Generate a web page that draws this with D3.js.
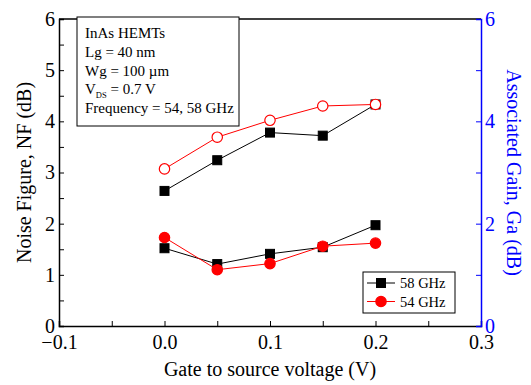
<!DOCTYPE html>
<html>
<head>
<meta charset="utf-8">
<script src="https://cdn.jsdelivr.net/npm/d3@7"></script>
<style>
  body { margin: 0; background: #fff; }
  svg, svg text { font-family: "Liberation Serif", "Times New Roman", serif; }
</style>
</head>
<body>
<svg width="531" height="385"></svg>
<script>
// gate to source voltage (V)
const vgs = [0.0, 0.05, 0.1, 0.15, 0.2];
// noise figure (dB)
const nf58 = [1.52, 1.21, 1.41, 1.54, 1.97];
const nf54 = [1.73, 1.10, 1.22, 1.56, 1.62];
// associated gain (dB)
const ga58 = [2.64, 3.24, 3.78, 3.72, 4.33];
const ga54 = [3.07, 3.69, 4.02, 4.30, 4.33];

const xTicks = [-0.1, 0.0, 0.1, 0.2, 0.3];
const yLeftTicks = [0, 1, 2, 3, 4, 5, 6];
const yRightTicks = [0, 2, 4, 6];
const infoLines = ["InAs HEMTs", "Lg = 40 nm", "Wg = 100 \u00b5m", "VDS", "Frequency = 54, 58 GHz"];

const margin = { left: 59, right: 50, top: 19, bottom: 59 };
const width = 531, height = 385;
const serif = '"Liberation Serif", "Times New Roman", serif';

const svg = d3.select("svg");

const x = d3.scaleLinear().domain([-0.1, 0.3]).range([margin.left, width - margin.right]);
const yL = d3.scaleLinear().domain([0, 6]).range([height - margin.bottom, margin.top]);
const yR = d3.scaleLinear().domain([0, 6]).range([height - margin.bottom, margin.top]);

// top frame line
svg.append("line")
    .attr("x1", x(-0.1)).attr("x2", x(0.3))
    .attr("y1", yL(6)).attr("y2", yL(6))
    .attr("stroke", "black").attr("stroke-width", 1.5);

// bottom axis
const xAxis = svg.append("g")
    .attr("transform", `translate(0, ${yL(0)})`)
    .call(d3.axisBottom(x).tickValues(d3.range(-0.1, 0.3001, 0.05)).tickSize(-5).tickPadding(6)
        .tickFormat((d) => {
            const r = Math.round(d * 100) / 100;
            return xTicks.some((t) => Math.abs(t - r) < 1e-9) ? d3.format(".1f")(r) : "";
        }));
xAxis.attr("font-family", serif);
xAxis.select(".domain").attr("stroke-width", 1.5);
xAxis.selectAll("text").attr("font-size", 20).attr("fill", "black").attr("dy", "0.85em")
    .style("font-family", serif);

// left axis
const yAxisL = svg.append("g")
    .attr("transform", `translate(${margin.left}, 0)`)
    .call(d3.axisLeft(yL).tickValues(d3.range(0, 6.01, 0.5)).tickSize(-5).tickPadding(4)
        .tickFormat((d) => (yLeftTicks.includes(d) ? d : "")));
yAxisL.attr("font-family", serif);
yAxisL.select(".domain").attr("stroke-width", 1.5);
yAxisL.selectAll("text").attr("font-size", 20).attr("fill", "black").style("font-family", serif);

// right axis
const yAxisR = svg.append("g")
    .attr("transform", `translate(${width - margin.right}, 0)`)
    .call(d3.axisRight(yR).tickValues(d3.range(0, 6.01, 1)).tickSize(-5).tickPadding(4)
        .tickFormat((d) => (yRightTicks.includes(d) ? d : "")));
yAxisR.attr("font-family", serif);
yAxisR.select(".domain").attr("stroke", "blue").attr("stroke-width", 1.5);
yAxisR.selectAll("line").attr("stroke", "blue");
yAxisR.selectAll("text").attr("font-size", 20).attr("fill", "blue").style("font-family", serif);

// axis titles
svg.append("text")
    .attr("x", (x(-0.1) + x(0.3)) / 2).attr("y", 376)
    .attr("text-anchor", "middle").attr("font-size", 20)
    .text("Gate to source voltage (V)");

svg.append("text")
    .attr("transform", `translate(31, ${yL(3)}) rotate(-90)`)
    .attr("text-anchor", "middle").attr("font-size", 20)
    .text("Noise Figure, NF (dB)");

svg.append("text")
    .attr("transform", `translate(507, ${yL(3)}) rotate(90)`)
    .attr("text-anchor", "middle").attr("font-size", 20).attr("fill", "blue")
    .text("Associated Gain, Ga (dB)");

// series
const line = (scale) => d3.line().x((d, i) => x(vgs[i])).y((d) => scale(d));

const series = [
    { values: ga58, scale: yR, color: "black", marker: "square", fill: "black" },
    { values: ga54, scale: yR, color: "red", marker: "circle", fill: "white" },
    { values: nf58, scale: yL, color: "black", marker: "square", fill: "black" },
    { values: nf54, scale: yL, color: "red", marker: "circle", fill: "red" },
];

const drawMarker = (g, type, cx, cy, color, fill) => {
    if (type === "square") {
        g.append("rect")
            .attr("x", cx - 4.5).attr("y", cy - 4.5)
            .attr("width", 9).attr("height", 9)
            .attr("fill", fill).attr("stroke", color);
    } else {
        g.append("circle")
            .attr("cx", cx).attr("cy", cy).attr("r", 5.2)
            .attr("fill", fill).attr("stroke", color).attr("stroke-width", 1.2);
    }
};

series.forEach((s) => {
    svg.append("path")
        .attr("d", line(s.scale)(s.values))
        .attr("fill", "none").attr("stroke", s.color).attr("stroke-width", 1);
    const g = svg.append("g");
    s.values.forEach((v, i) => drawMarker(g, s.marker, x(vgs[i]), s.scale(v), s.color, s.fill));
});

// info box
const info = svg.append("g");
info.append("rect")
    .attr("x", 77).attr("y", 17).attr("width", 162).attr("height", 109)
    .attr("fill", "white").attr("stroke", "black").attr("stroke-width", 1);
infoLines.forEach((t, i) => {
    const tx = info.append("text")
        .attr("x", 85).attr("y", 38 + i * 18.8)
        .attr("font-size", 15);
    if (t === "VDS") {
        tx.append("tspan").text("V");
        tx.append("tspan").attr("font-size", 8.5).attr("dy", 4).text("DS");
        tx.append("tspan").attr("dy", -4).text(" = 0.7 V");
    } else {
        tx.text(t);
    }
});

// legend
const legendItems = [
    { label: "58 GHz", color: "black", marker: "square" },
    { label: "54 GHz", color: "red", marker: "circle" },
];
const legend = svg.append("g");
legend.append("rect")
    .attr("x", 363).attr("y", 272).attr("width", 92).attr("height", 41)
    .attr("fill", "white").attr("stroke", "black").attr("stroke-width", 1);
legendItems.forEach((d, i) => {
    const cy = 283 + i * 18.5;
    legend.append("line")
        .attr("x1", 367).attr("x2", 395).attr("y1", cy).attr("y2", cy)
        .attr("stroke", d.color);
    drawMarker(legend, d.marker, 381, cy, d.color, d.color);
    legend.append("text")
        .attr("x", 400).attr("y", cy + 5).attr("font-size", 14.5)
        .text(d.label);
});
</script>
</body>
</html>
